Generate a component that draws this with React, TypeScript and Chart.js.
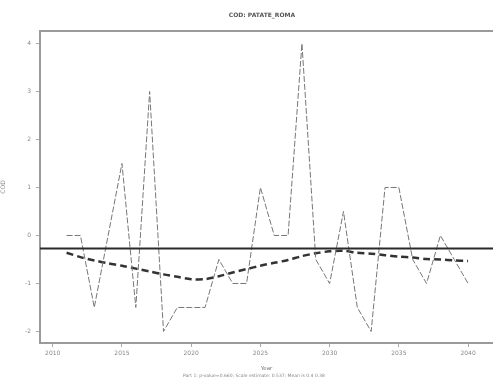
import React, { useEffect, useRef } from "react";
import { Chart, registerables } from "chart.js";

Chart.register(...registerables);

const years = [
  2011, 2012, 2013, 2014, 2015, 2016, 2017, 2018, 2019, 2020,
  2021, 2022, 2023, 2024, 2025, 2026, 2027, 2028, 2029, 2030,
  2031, 2032, 2033, 2034, 2035, 2036, 2037, 2038, 2039, 2040,
];
const observed = [
  0, 0, -1.5, 0, 1.5, -1.5, 3, -2, -1.5, -1.5,
  -1.5, -0.5, -1, -1, 1, 0, 0, 4, -0.5, -1,
  0.5, -1.5, -2, 1, 1, -0.5, -1, 0, -0.5, -1,
];
const trend = [
  -0.36, -0.45, -0.52, -0.58, -0.63, -0.69, -0.75, -0.81, -0.86, -0.91,
  -0.91, -0.85, -0.77, -0.70, -0.63, -0.57, -0.51, -0.43, -0.37, -0.33,
  -0.32, -0.36, -0.38, -0.41, -0.44, -0.46, -0.49, -0.50, -0.52, -0.53,
];
const meanLevel = -0.27;
const xTicks = [2010, 2015, 2020, 2025, 2030, 2035, 2040];
const yTicks = [-2, -1, 0, 1, 2, 3, 4];
const X_MIN = 2009.08;
const X_MAX = 2041.8;
const Y_MIN = -2.24;
const Y_MAX = 4.26;
const titleText = "COD: PATATE_ROMA";
const yTitle = "COD";
const xTitle = "Year";
const footText = "Part 1: p-value=0.660; Scale estimate: 0.537; Mean is 0.4 0.38";

const FONT = "'DejaVu Sans', sans-serif";

export default function App() {
  const ref = useRef<HTMLCanvasElement | null>(null);
  useEffect(() => {
    document.body.style.margin = "0";
    const canvas = ref.current!;
    const framePlugin = {
      id: "frame",
      afterDraw(chart: any) {
        const { ctx, chartArea } = chart;
        ctx.save();
        ctx.strokeStyle = "#9a9a9a";
        ctx.lineWidth = 2;
        ctx.beginPath();
        ctx.moveTo(chartArea.left, chartArea.top);
        ctx.lineTo(chartArea.right, chartArea.top);
        ctx.stroke();
        ctx.fillStyle = "#555";
        ctx.font = `bold 6px ${FONT}`;
        ctx.textAlign = "center";
        ctx.textBaseline = "middle";
        ctx.fillText(titleText, 262, 15);
        ctx.font = `4.5px ${FONT}`;
        ctx.fillStyle = "#888";
        ctx.fillText(footText, 254, 376);
        ctx.restore();
      },
    };
    const chart = new Chart(canvas, {
      type: "line",
      data: {
        datasets: [
          {
            data: [
              { x: X_MIN, y: meanLevel },
              { x: X_MAX, y: meanLevel },
            ],
            borderColor: "#2a2a2a",
            borderWidth: 2,
            pointRadius: 0,
          },
          {
            data: years.map((y, i) => ({ x: y, y: observed[i] })),
            borderColor: "#777",
            borderWidth: 1,
            borderDash: [6, 2],
            pointRadius: 0,
            tension: 0,
          },
          {
            data: years.map((y, i) => ({ x: y, y: trend[i] })),
            borderColor: "#333",
            borderWidth: 2.5,
            borderDash: [7, 4],
            pointRadius: 0,
            tension: 0.3,
          },
        ],
      },
      options: {
        animation: false,
        responsive: false,
        layout: { padding: { top: 31, right: 0, left: 0, bottom: 0 } },
        plugins: {
          legend: { display: false },
          tooltip: { enabled: false },
          title: { display: false },
        },
        scales: {
          x: {
            type: "linear",
            min: X_MIN,
            max: X_MAX,
            afterBuildTicks(scale: any) {
              scale.ticks = xTicks.map((v) => ({ value: v }));
            },
            afterFit(scale: any) {
              scale.height = 36;
            },
            grid: {
              drawOnChartArea: false,
              drawTicks: true,
              tickLength: 4,
              color: "#aaa",
            },
            border: { display: true, color: "#9a9a9a", width: 2 },
            ticks: {
              color: "#888",
              font: { size: 6, family: FONT },
              padding: 3,
              maxRotation: 0,
              callback: (v: any) => String(v),
            },
            title: {
              display: true,
              text: xTitle,
              color: "#777",
              font: { size: 5.5, family: FONT },
              padding: { top: 0, bottom: 7 },
            },
          },
          y: {
            type: "linear",
            min: Y_MIN,
            max: Y_MAX,
            afterBuildTicks(scale: any) {
              scale.ticks = yTicks.map((v) => ({ value: v }));
            },
            afterFit(scale: any) {
              scale.width = 40;
            },
            grid: {
              drawOnChartArea: false,
              drawTicks: true,
              tickLength: 4,
              color: "#aaa",
            },
            border: { display: true, color: "#9a9a9a", width: 2 },
            ticks: {
              color: "#888",
              font: { size: 6, family: FONT },
              padding: 5,
              callback: (v: any) => String(v),
            },
            title: {
              display: true,
              text: yTitle,
              color: "#888",
              font: { size: 6, family: FONT },
              padding: { top: 0, bottom: 6 },
            },
          },
        },
      },
      plugins: [framePlugin],
    });
    return () => chart.destroy();
  }, []);
  return <canvas ref={ref} width={493} height={379} style={{ display: "block" }} />;
}
